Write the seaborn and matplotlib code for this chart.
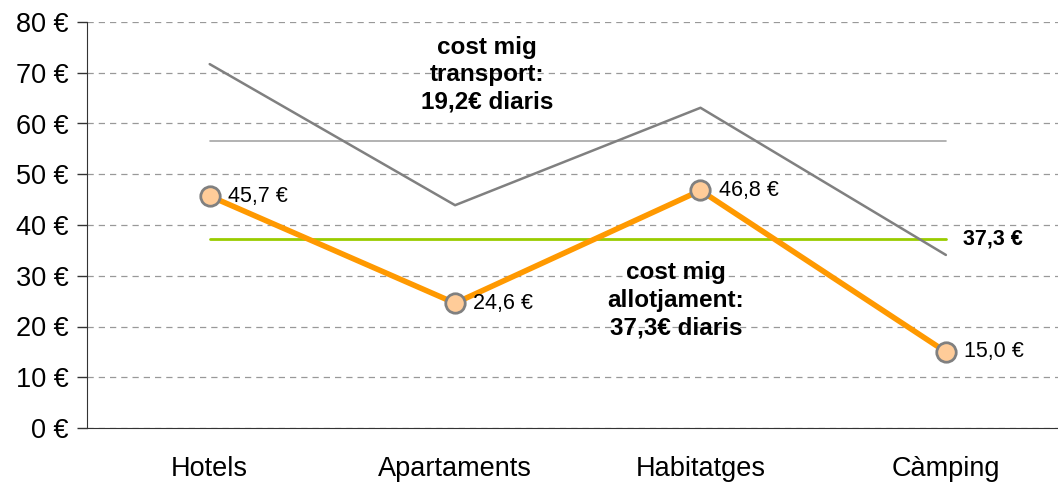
import numpy as np
import pandas as pd
import matplotlib
matplotlib.use("Agg")
import matplotlib.pyplot as plt
import seaborn as sns

# Data
categories = ["Hotels", "Apartaments", "Habitatges", "Càmping"]
allotjament = [45.7, 24.6, 46.8, 15.0]
total = [71.7, 43.9, 63.1, 34.1]
mig_allotjament = 37.3
mig_transport = 19.2
point_labels = ["45,7 €", "24,6 €", "46,8 €", "15,0 €"]
y_ticks = [0, 10, 20, 30, 40, 50, 60, 70, 80]

sns.set_style("white")
plt.rcParams["font.family"] = ["Liberation Sans", "DejaVu Sans"]
plt.rcParams["text.color"] = "black"
plt.rcParams["xtick.color"] = "black"
plt.rcParams["ytick.color"] = "black"

df = pd.DataFrame({"cat": range(len(categories)), "allotjament": allotjament, "total": total})
df["mig_total"] = mig_allotjament + mig_transport
df["mig_allot"] = mig_allotjament

fig = plt.figure(figsize=(10.58, 4.86), dpi=100)
ax = fig.add_axes([87 / 1058, 1 - 428 / 486, 1 - 87 / 1058 + 0.01, (428 - 22) / 486])

sns.lineplot(data=df, x="cat", y="mig_total", ax=ax, color="#a6a6a6", linewidth=1.2)
sns.lineplot(data=df, x="cat", y="mig_allot", ax=ax, color="#99cc00", linewidth=2)
sns.lineplot(data=df, x="cat", y="total", ax=ax, color="#808080", linewidth=1.8)
sns.lineplot(data=df, x="cat", y="allotjament", ax=ax, color="#ff9900", linewidth=4,
             marker="o", markersize=14, markerfacecolor="#ffcc99",
             markeredgecolor="#808080", markeredgewidth=2)

for i, (v, lab) in enumerate(zip(allotjament, point_labels)):
    ax.annotate(lab, (i, v), xytext=(13, 0), textcoords="offset points",
                va="center", ha="left", fontsize=15.5)

ax.text(3.07, mig_allotjament, "37,3 €", fontsize=15.5, fontweight="bold",
        va="center", ha="left")
ax.text(1.13, 69.6, "cost mig\ntransport:\n19,2€ diaris", fontsize=17.5,
        fontweight="bold", ha="center", va="center", linespacing=1.25)
ax.text(1.9, 25.2, "cost mig\nallotjament:\n37,3€ diaris", fontsize=17.5,
        fontweight="bold", ha="center", va="center", linespacing=1.25)

ax.set_xlim(-0.5, 3.5)
ax.set_ylim(0, 80)
ax.set_yticks(y_ticks)
ax.set_yticklabels([f"{t} €" for t in y_ticks], fontsize=19.5)
ax.set_xticks(range(len(categories)))
ax.set_xticklabels(categories, fontsize=19.5)
ax.tick_params(axis="x", length=0, pad=20)
ax.set_xticks([-0.5, 0.5, 1.5, 2.5], minor=True)
ax.tick_params(axis="x", which="minor", length=9, width=1, color="#333333", direction="out")
ax.tick_params(axis="y", length=7, width=1, color="#333333", direction="out", left=True, pad=6)
ax.yaxis.grid(True, linestyle=(0, (5, 4)), color="#999999", linewidth=0.9)
ax.xaxis.grid(False)
ax.set_axisbelow(True)
ax.set_xlabel("")
ax.set_ylabel("")
for s in ["top", "right"]:
    ax.spines[s].set_visible(False)
ax.spines["left"].set_color("#333333")
ax.spines["bottom"].set_color("#333333")

fig.savefig("out.png", dpi=100)
